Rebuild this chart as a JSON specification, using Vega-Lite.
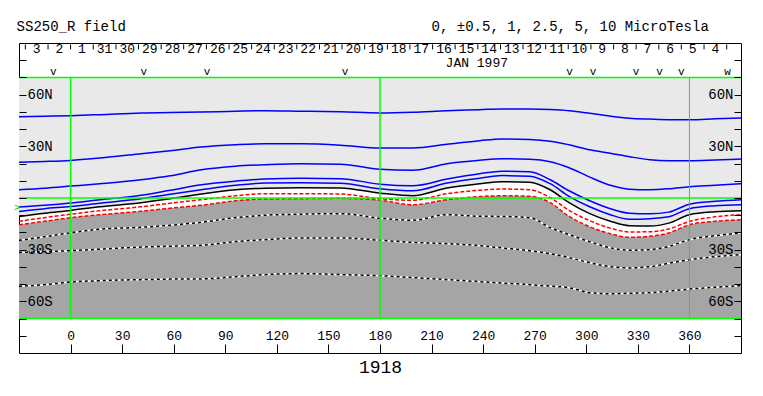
{
  "$schema": "https://vega.github.io/schema/vega-lite/v6.json",
  "width": 722,
  "height": 310,
  "autosize": "none",
  "padding": {"left": 19, "top": 43, "right": 22, "bottom": 43},
  "background": "white",
  "config": {
    "view": {"stroke": "black", "strokeWidth": 1},
    "font": "Liberation Mono",
    "text": {"font": "Liberation Mono", "color": "black"}
  },
  "datasets": {
    "field": [
      {"lon":-30,"L1":47.2,"L2":20.8,"L3":4.8,"L4":-5.2,"L5":-7.8,"N":-10.7,"R1":-13.5,"R2":-15.5,"W1":-24.6,"W2":-31.6,"W3":-51.3},
      {"lon":-15,"L1":47.5,"L2":21.2,"L3":5.7,"L4":-4.2,"L5":-6.2,"N":-8.8,"R1":-11.4,"R2":-13.5,"W1":-22.5,"W2":-31.2,"W3":-50.3},
      {"lon":0,"L1":47.8,"L2":21.8,"L3":6.9,"L4":-2.9,"L5":-4.9,"N":-7.2,"R1":-9.4,"R2":-11.4,"W1":-20.2,"W2":-30.6,"W3":-48.8},
      {"lon":17,"L1":48.4,"L2":23.2,"L3":8.3,"L4":-1.0,"L5":-3.0,"N":-5.1,"R1":-7.4,"R2":-9.7,"W1":-18.1,"W2":-29.7,"W3":-48.0},
      {"lon":41,"L1":49.4,"L2":25.7,"L3":10.6,"L4":1.6,"L5":-0.4,"N":-2.7,"R1":-5.1,"R2":-7.7,"W1":-17.0,"W2":-28.5,"W3":-47.4},
      {"lon":58,"L1":49.6,"L2":27.5,"L3":12.9,"L4":4.5,"L5":2.2,"N":-0.4,"R1":-3.0,"R2":-5.9,"W1":-15.8,"W2":-28.0,"W3":-47.1},
      {"lon":76,"L1":49.9,"L2":29.6,"L3":16.4,"L4":7.7,"L5":4.8,"N":2.3,"R1":-1.0,"R2":-4.2,"W1":-14.1,"W2":-27.5,"W3":-47.0},
      {"lon":96,"L1":50.4,"L2":30.9,"L3":18.5,"L4":9.8,"L5":7.4,"N":4.8,"R1":1.3,"R2":-1.6,"W1":-11.4,"W2":-25.3,"W3":-45.7},
      {"lon":113,"L1":50.7,"L2":31.5,"L3":19.3,"L4":11.0,"L5":8.7,"N":5.7,"R1":2.5,"R2":-0.6,"W1":-10.0,"W2":-24.2,"W3":-44.5},
      {"lon":134,"L1":50.4,"L2":31.5,"L3":19.9,"L4":11.4,"L5":8.9,"N":6.0,"R1":2.5,"R2":-0.4,"W1":-9.4,"W2":-23.2,"W3":-43.9},
      {"lon":157,"L1":50.1,"L2":30.7,"L3":19.6,"L4":11.2,"L5":8.6,"N":5.8,"R1":2.3,"R2":-0.2,"W1":-9.1,"W2":-23.2,"W3":-44.5},
      {"lon":180,"L1":49.4,"L2":29.0,"L3":16.7,"L4":8.0,"L5":5.4,"N":2.8,"R1":-0.4,"R2":-1.3,"W1":-11.7,"W2":-24.5,"W3":-45.1},
      {"lon":199,"L1":49.8,"L2":29.0,"L3":16.1,"L4":7.1,"L5":4.2,"N":1.3,"R1":-1.3,"R2":-3.9,"W1":-12.9,"W2":-25.8,"W3":-46.2},
      {"lon":219,"L1":50.7,"L2":31.2,"L3":19.9,"L4":11.0,"L5":8.7,"N":5.8,"R1":2.5,"R2":-1.0,"W1":-9.7,"W2":-26.5,"W3":-47.4},
      {"lon":238,"L1":51.3,"L2":33.3,"L3":21.9,"L4":14.1,"L5":11.5,"N":8.3,"R1":4.5,"R2":0.8,"W1":-10.6,"W2":-27.7,"W3":-48.6},
      {"lon":251,"L1":51.7,"L2":34.3,"L3":22.8,"L4":15.6,"L5":13.0,"N":9.5,"R1":5.2,"R2":1.3,"W1":-10.7,"W2":-29.0,"W3":-49.4},
      {"lon":267,"L1":51.7,"L2":34.0,"L3":22.5,"L4":15.3,"L5":12.7,"N":9.2,"R1":4.8,"R2":1.0,"W1":-11.4,"W2":-30.6,"W3":-50.3},
      {"lon":279,"L1":51.4,"L2":33.0,"L3":21.1,"L4":10.6,"L5":8.3,"N":4.8,"R1":0.2,"R2":-2.7,"W1":-17.2,"W2":-32.3,"W3":-51.2},
      {"lon":290,"L1":50.7,"L2":30.9,"L3":17.6,"L4":4.2,"L5":1.0,"N":-2.7,"R1":-7.2,"R2":-10.7,"W1":-21.3,"W2":-34.6,"W3":-52.1},
      {"lon":302,"L1":49.2,"L2":28.0,"L3":12.1,"L4":-1.6,"L5":-5.1,"N":-9.1,"R1":-13.2,"R2":-16.7,"W1":-25.4,"W2":-37.6,"W3":-55.0},
      {"lon":314,"L1":47.5,"L2":26.0,"L3":7.4,"L4":-6.2,"L5":-9.7,"N":-13.5,"R1":-17.5,"R2":-20.7,"W1":-28.9,"W2":-39.9,"W3":-55.6},
      {"lon":325,"L1":46.3,"L2":24.0,"L3":5.1,"L4":-8.8,"L5":-12.3,"N":-16.1,"R1":-19.7,"R2":-22.8,"W1":-30.3,"W2":-40.6,"W3":-55.3},
      {"lon":337,"L1":45.8,"L2":22.2,"L3":4.8,"L4":-9.1,"L5":-12.0,"N":-16.3,"R1":-19.6,"R2":-22.2,"W1":-30.0,"W2":-39.9,"W3":-55.0},
      {"lon":348,"L1":45.5,"L2":21.7,"L3":5.4,"L4":-8.2,"L5":-10.9,"N":-14.6,"R1":-18.0,"R2":-20.3,"W1":-28.1,"W2":-37.9,"W3":-54.1},
      {"lon":360,"L1":45.5,"L2":21.7,"L3":6.6,"L4":-3.6,"L5":-6.2,"N":-9.7,"R1":-13.6,"R2":-15.5,"W1":-24.2,"W2":-35.8,"W3":-52.9},
      {"lon":375,"L1":46.0,"L2":22.1,"L3":7.4,"L4":-1.9,"L5":-4.5,"N":-8.0,"R1":-10.9,"R2":-13.5,"W1":-21.9,"W2":-34.1,"W3":-51.8},
      {"lon":390,"L1":46.5,"L2":22.6,"L3":8.3,"L4":-1.0,"L5":-3.9,"N":-7.4,"R1":-9.7,"R2":-12.6,"W1":-20.3,"W2":-32.9,"W3":-50.9}
    ],
    "days": [
      {"lon":-19.7,"day":"3"},{"lon":-6.5,"day":"2"},{"lon":6.6,"day":"1"},{"lon":19.8,"day":"31"},
      {"lon":33.0,"day":"30"},{"lon":46.1,"day":"29"},{"lon":59.3,"day":"28"},{"lon":72.4,"day":"27"},
      {"lon":85.6,"day":"26"},{"lon":98.7,"day":"25"},{"lon":111.9,"day":"24"},{"lon":125.1,"day":"23"},
      {"lon":138.2,"day":"22"},{"lon":151.4,"day":"21"},{"lon":164.5,"day":"20"},{"lon":177.7,"day":"19"},
      {"lon":190.9,"day":"18"},{"lon":204.0,"day":"17"},{"lon":217.2,"day":"16"},{"lon":230.3,"day":"15"},
      {"lon":243.5,"day":"14"},{"lon":256.7,"day":"13"},{"lon":269.8,"day":"12"},{"lon":283.0,"day":"11"},
      {"lon":296.1,"day":"10"},{"lon":309.3,"day":"9"},{"lon":322.5,"day":"8"},{"lon":335.6,"day":"7"},
      {"lon":348.8,"day":"6"},{"lon":361.9,"day":"5"},{"lon":375.1,"day":"4"}
    ],
    "dayticks": [
      {"lon":-26.3},{"lon":-13.1},{"lon":0.0},{"lon":13.2},{"lon":26.4},{"lon":39.5},{"lon":52.7},{"lon":65.8},
      {"lon":79.0},{"lon":92.2},{"lon":105.3},{"lon":118.5},{"lon":131.6},{"lon":144.8},{"lon":157.9},{"lon":171.1},
      {"lon":184.3},{"lon":197.4},{"lon":210.6},{"lon":223.7},{"lon":236.9},{"lon":250.1},{"lon":263.2},{"lon":276.4},
      {"lon":289.5},{"lon":302.7},{"lon":315.9},{"lon":329.0},{"lon":342.2},{"lon":355.3},{"lon":368.5},{"lon":381.7}
    ],
    "obs": [
      {"lon":-10.1,"m":"v"},{"lon":42.6,"m":"v"},{"lon":79.4,"m":"v"},{"lon":159.7,"m":"v"},
      {"lon":290.3,"m":"v"},{"lon":303.9,"m":"v"},{"lon":329.0,"m":"v"},{"lon":342.6,"m":"v"},
      {"lon":355.2,"m":"v"},{"lon":382.2,"m":"w"}
    ]
  },
  "layer": [
    {
      "data": {"name": "field"},
      "mark": {"type": "area", "color": "#e9e9e9", "interpolate": "monotone"},
      "encoding": {
        "x": {
          "field": "lon", "type": "quantitative",
          "scale": {"domain": [-30, 390], "nice": false, "zero": false},
          "axis": {
            "orient": "bottom", "values": [0,30,60,90,120,150,180,210,240,270,300,330,360],
            "tickSize": -9, "tickColor": "black", "tickWidth": 1,
            "labelPadding": -2, "labelBaseline": "bottom", "labelFont": "Liberation Mono",
            "labelFontSize": 13, "labelColor": "black", "labelFlush": false, "labelOverlap": false,
            "domain": false, "grid": false, "zindex": 2,
            "title": "1918", "titleFont": "Liberation Mono", "titleFontSize": 18,
            "titleFontWeight": "normal", "titleColor": "black", "titlePadding": 5
          }
        },
        "y": {
          "field": "N", "type": "quantitative",
          "scale": {"domain": [-90, 90], "nice": false, "zero": false},
          "axis": {
            "orient": "left", "values": [-80,-70,-60,-50,-40,-30,-20,-10,0,10,20,30,40,50,60,70,80],
            "tickSize": -7, "tickColor": "black", "tickWidth": 1,
            "labelPadding": -1, "labelAlign": "left", "labelBaseline": "middle",
            "labelExpr": "datum.value==60?'60N':datum.value==30?'30N':datum.value==-30?'30S':datum.value==-60?'60S':''",
            "labelFont": "Liberation Mono", "labelFontSize": 14, "labelColor": "black",
            "labelOverlap": false, "labelFlush": false, "zindex": 2,
            "domain": false, "grid": false, "title": null
          }
        },
        "y2": {"datum": 70}
      }
    },
    {
      "data": {"name": "field"},
      "mark": {"type": "area", "color": "#a5a5a5", "interpolate": "monotone"},
      "encoding": {
        "x": {"field": "lon", "type": "quantitative", "axis": null},
        "y": {
          "field": "R2", "type": "quantitative",
          "axis": {
            "orient": "right", "values": [-80,-70,-60,-50,-40,-30,-20,-10,0,10,20,30,40,50,60,70,80],
            "tickSize": -7, "tickColor": "black", "tickWidth": 1,
            "labelPadding": -1, "labelAlign": "right", "labelBaseline": "middle",
            "labelExpr": "datum.value==60?'60N':datum.value==30?'30N':datum.value==-30?'30S':datum.value==-60?'60S':''",
            "labelFont": "Liberation Mono", "labelFontSize": 14, "labelColor": "black",
            "labelOverlap": false, "labelFlush": false, "zindex": 2,
            "domain": false, "grid": false, "title": null
          }
        },
        "y2": {"datum": -70}
      }
    },
    {
      "data": {"name": "field"},
      "transform": [{"fold": ["L1","L2","L3","L4","L5"], "as": ["lvl","lat"]}],
      "mark": {"type": "line", "color": "#0000ff", "strokeWidth": 1.5, "interpolate": "monotone"},
      "encoding": {
        "x": {"field": "lon", "type": "quantitative", "axis": null},
        "y": {"field": "lat", "type": "quantitative", "axis": null},
        "detail": {"field": "lvl"}
      }
    },
    {
      "data": {"name": "field"},
      "mark": {"type": "line", "color": "black", "strokeWidth": 1.5, "interpolate": "monotone"},
      "encoding": {
        "x": {"field": "lon", "type": "quantitative", "axis": null},
        "y": {"field": "N", "type": "quantitative", "axis": null}
      }
    },
    {
      "data": {"name": "field"},
      "transform": [{"fold": ["R1","R2"], "as": ["lvl","lat"]}],
      "mark": {"type": "line", "color": "#ff0000", "strokeWidth": 1.5, "strokeDash": [4, 2], "interpolate": "monotone"},
      "encoding": {
        "x": {"field": "lon", "type": "quantitative", "axis": null},
        "y": {"field": "lat", "type": "quantitative", "axis": null},
        "detail": {"field": "lvl"}
      }
    },
    {
      "data": {"name": "field"},
      "transform": [{"fold": ["W1","W2","W3"], "as": ["lvl","lat"]}],
      "mark": {"type": "line", "color": "white", "strokeWidth": 1.5, "interpolate": "monotone"},
      "encoding": {
        "x": {"field": "lon", "type": "quantitative", "axis": null},
        "y": {"field": "lat", "type": "quantitative", "axis": null},
        "detail": {"field": "lvl"}
      }
    },
    {
      "data": {"name": "field"},
      "transform": [{"fold": ["W1","W2","W3"], "as": ["lvl","lat"]}],
      "mark": {"type": "line", "color": "black", "strokeWidth": 1.5, "strokeDash": [3, 3], "interpolate": "monotone"},
      "encoding": {
        "x": {"field": "lon", "type": "quantitative", "axis": null},
        "y": {"field": "lat", "type": "quantitative", "axis": null},
        "detail": {"field": "lvl"}
      }
    },
    {
      "data": {"values": [{"lon": 0}, {"lon": 180}]},
      "mark": {"type": "rule", "color": "#00ff00", "strokeWidth": 1.5},
      "encoding": {
        "x": {"field": "lon", "type": "quantitative", "axis": null},
        "y": {"datum": -70, "axis": null},
        "y2": {"datum": 70}
      }
    },
    {
      "data": {"values": [{"lon": 360}]},
      "mark": {"type": "rule", "color": "#22dd22", "strokeWidth": 1},
      "encoding": {
        "x": {"field": "lon", "type": "quantitative", "axis": null},
        "y": {"datum": -70, "axis": null},
        "y2": {"datum": 70}
      }
    },
    {
      "data": {"values": [{"lat": 70}, {"lat": 0}, {"lat": -70}]},
      "mark": {"type": "rule", "color": "#00ff00", "strokeWidth": 1.5},
      "encoding": {
        "y": {"field": "lat", "type": "quantitative", "axis": null},
        "x": {"datum": -30, "axis": null},
        "x2": {"datum": 390}
      }
    },
    {
      "data": {"name": "dayticks"},
      "mark": {"type": "rule", "color": "black", "strokeWidth": 1},
      "encoding": {
        "x": {"field": "lon", "type": "quantitative", "axis": null},
        "y": {"datum": 89.2, "axis": null},
        "y2": {"datum": 86.3}
      }
    },
    {
      "data": {"name": "days"},
      "mark": {"type": "text", "fontSize": 13, "font": "Liberation Mono", "align": "center", "baseline": "middle", "color": "black"},
      "encoding": {
        "x": {"field": "lon", "type": "quantitative", "axis": null},
        "y": {"datum": 86.4, "axis": null},
        "text": {"field": "day"}
      }
    },
    {
      "data": {"name": "obs"},
      "mark": {"type": "text", "fontSize": 11, "font": "Liberation Mono", "align": "center", "baseline": "bottom", "color": "black"},
      "encoding": {
        "x": {"field": "lon", "type": "quantitative", "axis": null},
        "y": {"datum": 70.2, "axis": null},
        "text": {"field": "m"}
      }
    },
    {
      "data": {"values": [{}]},
      "mark": {"type": "text", "text": "JAN 1997", "fontSize": 13, "font": "Liberation Mono", "align": "center", "baseline": "middle", "color": "black"},
      "encoding": {
        "x": {"datum": 236.3, "axis": null},
        "y": {"datum": 78.3, "axis": null}
      }
    },
    {
      "data": {"values": [{}]},
      "mark": {"type": "text", "text": "SS250_R field", "fontSize": 14, "font": "Liberation Mono", "align": "left", "baseline": "middle", "color": "black"},
      "encoding": {
        "x": {"datum": -31.4, "axis": null},
        "y": {"datum": 99.5, "axis": null}
      }
    },
    {
      "data": {"values": [{}]},
      "mark": {"type": "text", "text": "0, ±0.5, 1, 2.5, 5, 10 MicroTesla", "fontSize": 14, "font": "Liberation Mono", "align": "left", "baseline": "middle", "color": "black"},
      "encoding": {
        "x": {"datum": 210.0, "axis": null},
        "y": {"datum": 99.5, "axis": null}
      }
    },
    {
      "data": {"values": [{}]},
      "mark": {"type": "text", "text": ">", "fontSize": 10, "font": "Liberation Mono", "align": "center", "baseline": "middle", "color": "#00cc00"},
      "encoding": {
        "x": {"datum": -31.2, "axis": null},
        "y": {"datum": -5.8, "axis": null}
      }
    }
  ],
  "resolve": {"axis": {"x": "independent", "y": "independent"}}
}
